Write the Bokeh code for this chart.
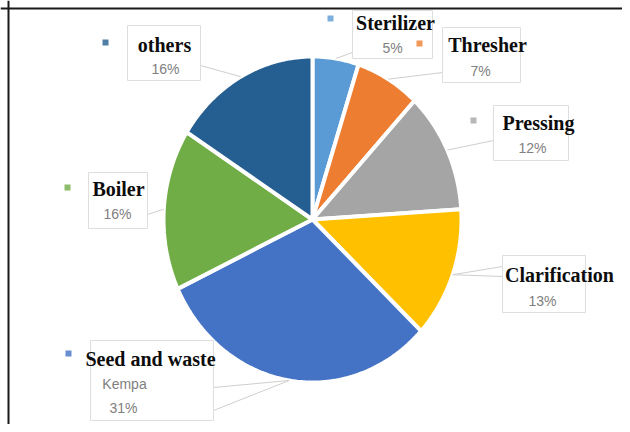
import numpy as np
from bokeh.plotting import figure
from bokeh.models import Range1d, Span, ColumnDataSource
from bokeh.core.properties import value
from bokeh.embed import file_html
from bokeh.resources import INLINE

# ---- data ----
categories = ["Sterilizer", "Thresher", "Pressing", "Clarification", "Seed and waste", "Boiler", "others"]
sublabels = ["", "", "", "", "Kempa", "", ""]
values = [5, 7, 12, 13, 31, 16, 16]
colors = ["#5B9BD5", "#ED7D31", "#A5A5A5", "#FFC000", "#4472C4", "#70AD47", "#255E91"]

# ---- layout (picture pixel coordinates) ----
CX, CY, RX, RY = 312, 219, 149, 163
NAME_XY = [(395, 22), (487, 44), (538, 122), (559, 274), (150, 358), (118, 188), (164, 44)]
PCT_XY = [(392, 47), (480, 70), (532, 147), (542, 300), (123, 407), (117, 213), (165, 68)]
SUB_XY = [None, None, None, None, (124, 383), None, None]
SQ_XY = [(330, 18), (419, 43), (473, 120), None, (68, 353), (67, 187), (105, 42)]
BOX = [(352, 10, 432, 58), (442, 27, 520, 82), (493, 105, 568, 160), (502, 255, 585, 312),
       (90, 340, 213, 420), (88, 172, 147, 228), (127, 25, 200, 80)]
LEADER_END = [[(352, 52)], [(442, 72)], [(493, 140)], [(502, 266), (502, 276)],
              [(213, 387), (213, 410)], [(147, 214)], [(200, 65)]]

p = figure(width=622, height=424, x_range=Range1d(0, 622), y_range=Range1d(424, 0),
           output_backend="svg", toolbar_location=None, min_border=0)
p.axis.visible = False
p.xgrid.visible = False
p.ygrid.visible = False
p.outline_line_color = None
p.background_fill_color = "white"
p.border_fill_color = "white"

# ---- pie slices (clockwise from 12 o'clock) ----
vals = np.array(values, dtype=float)
frac = vals / vals.sum()
ends = np.cumsum(frac) * 2 * np.pi
starts = ends - frac * 2 * np.pi
xs, ys = [], []
for s, e in zip(starts, ends):
    t = np.linspace(s, e, max(8, int((e - s) / (2 * np.pi) * 360)))
    xs.append([CX] + list(CX + RX * np.sin(t)))
    ys.append([CY] + list(CY - RY * np.cos(t)))
p.patches(xs, ys, fill_color=colors, line_color="white", line_width=4)

# ---- leader lines ----
mids = (starts + ends) / 2
lx, ly = [], []
for i, m in enumerate(mids):
    px, py = CX + RX * np.sin(m), CY - RY * np.cos(m)
    for (bx, by) in LEADER_END[i]:
        lx.append([px, bx])
        ly.append([py, by])
p.multi_line(lx, ly, line_color="#cfcfcf", line_width=1)

# ---- label boxes ----
p.quad(left=[b[0] for b in BOX], bottom=[b[3] for b in BOX], right=[b[2] for b in BOX],
       top=[b[1] for b in BOX], fill_color=None, line_color="#dedede", line_width=1)

# ---- legend-like squares ----
sq_idx = [i for i in range(len(categories)) if SQ_XY[i] is not None]
p.scatter(x=[SQ_XY[i][0] for i in sq_idx], y=[SQ_XY[i][1] for i in sq_idx], marker="square",
          size=6, fill_color=[colors[i] for i in sq_idx], line_color=None, fill_alpha=0.8)

# ---- texts ----
name_src = ColumnDataSource(dict(x=[q[0] for q in NAME_XY], y=[q[1] for q in NAME_XY], t=categories))
p.text(x="x", y="y", text="t", source=name_src, text_font=value("Liberation Serif"),
       text_font_style="bold", text_font_size="20px", text_color="#0d0d0d",
       text_align="center", text_baseline="middle")

pct_src = ColumnDataSource(dict(x=[q[0] for q in PCT_XY], y=[q[1] for q in PCT_XY],
                                t=[f"{v}%" for v in values]))
p.text(x="x", y="y", text="t", source=pct_src, text_font=value("Liberation Sans"),
       text_font_size="14px", text_color="#808080", text_align="center", text_baseline="middle")

sub_idx = [i for i in range(len(categories)) if SUB_XY[i] is not None]
sub_src = ColumnDataSource(dict(x=[SUB_XY[i][0] for i in sub_idx], y=[SUB_XY[i][1] for i in sub_idx],
                                t=[sublabels[i] for i in sub_idx]))
p.text(x="x", y="y", text="t", source=sub_src, text_font=value("Liberation Sans"),
       text_font_size="14px", text_color="#808080", text_align="center", text_baseline="middle")

# ---- frame lines (top and left) ----
p.add_layout(Span(location=8, dimension="width", line_color="#1a1a1a", line_width=2))
p.add_layout(Span(location=8, dimension="height", line_color="#1a1a1a", line_width=2))

open("out.html", "w").write(file_html(p, INLINE))
